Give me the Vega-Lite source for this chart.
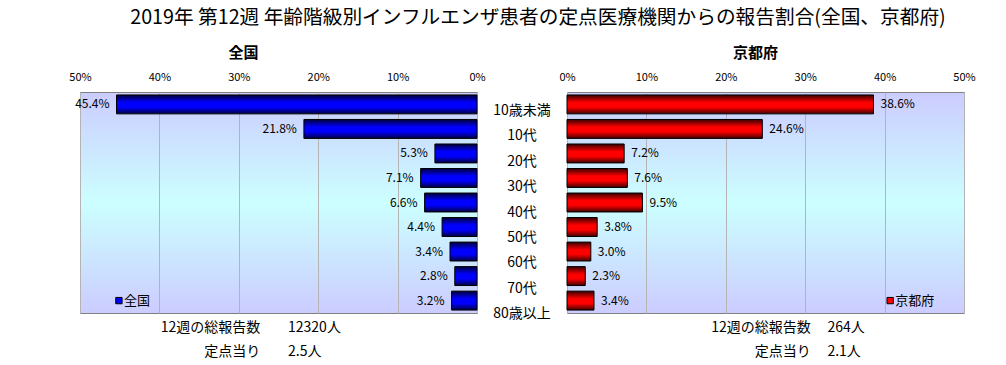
{
  "$schema": "https://vega.github.io/schema/vega-lite/v6.json",
  "padding": {"left": 68, "top": 7, "right": 10, "bottom": 5},
  "background": "white",
  "title": {
    "text": "2019年 第12週 年齢階級別インフルエンザ患者の定点医療機関からの報告割合(全国、京都府)",
    "fontSize": 19.7, "fontWeight": "normal", "anchor": "middle", "offset": 18, "dx": 16, "color": "black"
  },
  "datasets": {
    "rates": [
      {"age": "10歳未満", "region": "全国", "share": 0.454},
      {"age": "10代", "region": "全国", "share": 0.218},
      {"age": "20代", "region": "全国", "share": 0.053},
      {"age": "30代", "region": "全国", "share": 0.071},
      {"age": "40代", "region": "全国", "share": 0.066},
      {"age": "50代", "region": "全国", "share": 0.044},
      {"age": "60代", "region": "全国", "share": 0.034},
      {"age": "70代", "region": "全国", "share": 0.028},
      {"age": "80歳以上", "region": "全国", "share": 0.032},
      {"age": "10歳未満", "region": "京都府", "share": 0.386},
      {"age": "10代", "region": "京都府", "share": 0.246},
      {"age": "20代", "region": "京都府", "share": 0.072},
      {"age": "30代", "region": "京都府", "share": 0.076},
      {"age": "40代", "region": "京都府", "share": 0.095},
      {"age": "50代", "region": "京都府", "share": 0.038},
      {"age": "60代", "region": "京都府", "share": 0.030},
      {"age": "70代", "region": "京都府", "share": 0.023},
      {"age": "80歳以上", "region": "京都府", "share": 0.034}
    ],
    "notes": [
      {"region": "全国", "label": "12週の総報告数\n定点当り", "value": "12320人\n2.5人"},
      {"region": "京都府", "label": "12週の総報告数\n定点当り", "value": "264人\n2.1人"}
    ],
    "legend": [
      {"region": "全国"},
      {"region": "京都府"}
    ]
  },
  "spacing": 0,
  "bounds": "flush",
  "hconcat": [
    {
      "width": 397,
      "height": 221,
      "title": {"text": "全国", "fontSize": 15, "fontWeight": "bold", "dx": -35, "offset": 10, "color": "black"},
      "view": {
        "fill": {"gradient": "linear", "x1": 0, "y1": 0, "x2": 0, "y2": 1,
          "stops": [{"offset": 0, "color": "#ccccff"}, {"offset": 0.5, "color": "#ccffff"}, {"offset": 1, "color": "#ccccff"}]},
        "stroke": "#808080", "strokeWidth": 1
      },
      "layer": [
        {
          "data": {"name": "rates"},
          "transform": [{"filter": "datum.region === '全国'"}],
          "mark": {"type": "bar", "stroke": "black", "strokeWidth": 1,
            "color": {"gradient": "linear", "x1": 0, "y1": 0, "x2": 0, "y2": 1,
              "stops": [{"offset": 0, "color": "#000038"}, {"offset": 0.4, "color": "#0000ff"}, {"offset": 0.65, "color": "#0000ff"}, {"offset": 1, "color": "#000040"}]}},
          "encoding": {
            "y": {"field": "age", "type": "nominal", "axis": null,
              "scale": {"domain": ["10歳未満", "10代", "20代", "30代", "40代", "50代", "60代", "70代", "80歳以上"], "paddingInner": 0.228, "paddingOuter": 0.12}},
            "x": {"field": "share", "type": "quantitative",
              "scale": {"domain": [0, 0.5], "reverse": true, "nice": false},
              "axis": {"orient": "top", "values": [0, 0.1, 0.2, 0.3, 0.4, 0.5], "format": ".0%", "grid": true, "gridColor": "#b4b4b4",
                "domain": false, "ticks": false, "tickSize": 0, "labelPadding": 10, "labelFontSize": 11, "labelColor": "black", "title": null, "labelFlush": false}}
          }
        },
        {
          "data": {"name": "rates"},
          "transform": [{"filter": "datum.region === '全国'"}],
          "mark": {"type": "text", "align": "right", "baseline": "middle", "dx": -7, "fontSize": 12, "color": "black"},
          "encoding": {
            "y": {"field": "age", "type": "nominal"},
            "x": {"field": "share", "type": "quantitative"},
            "text": {"field": "share", "format": ".1%"}
          }
        },
        {
          "data": {"name": "legend"},
          "transform": [{"filter": "datum.region === '全国'"}],
          "mark": {"type": "point", "shape": "square", "size": 40, "filled": true, "fill": "#0000ff", "stroke": "black", "strokeWidth": 1, "opacity": 1},
          "encoding": {"x": {"datum": 0.451}, "y": {"datum": "80歳以上"}}
        },
        {
          "data": {"name": "legend"},
          "transform": [{"filter": "datum.region === '全国'"}],
          "mark": {"type": "text", "align": "left", "baseline": "middle", "dx": 5, "fontSize": 13, "color": "black"},
          "encoding": {"x": {"datum": 0.451}, "y": {"datum": "80歳以上"}, "text": {"field": "region"}}
        },
        {
          "data": {"name": "notes"},
          "transform": [{"filter": "datum.region === '全国'"}],
          "mark": {"type": "text", "align": "right", "baseline": "middle", "lineBreak": "\n", "lineHeight": 24, "dy": 27, "fontSize": 14, "color": "black"},
          "encoding": {"x": {"datum": 0.273}, "y": {"datum": "80歳以上"}, "text": {"field": "label"}}
        },
        {
          "data": {"name": "notes"},
          "transform": [{"filter": "datum.region === '全国'"}],
          "mark": {"type": "text", "align": "left", "baseline": "middle", "lineBreak": "\n", "lineHeight": 24, "dy": 27, "fontSize": 14, "color": "black"},
          "encoding": {"x": {"datum": 0.238}, "y": {"datum": "80歳以上"}, "text": {"field": "value"}}
        }
      ]
    },
    {
      "width": 90,
      "height": 241,
      "view": {"stroke": null, "fill": null},
      "data": {"name": "rates"},
      "transform": [{"filter": "datum.region === '全国'"}],
      "mark": {"type": "text", "fontSize": 14, "baseline": "middle", "color": "black"},
      "encoding": {
        "y": {"field": "age", "type": "nominal", "axis": null,
          "scale": {"type": "point", "domain": ["10歳未満", "10代", "20代", "30代", "40代", "50代", "60代", "70代", "80歳以上"], "padding": 0.749}},
        "text": {"field": "age"}
      }
    },
    {
      "width": 397,
      "height": 221,
      "title": {"text": "京都府", "fontSize": 15, "fontWeight": "bold", "dx": -10, "offset": 10, "color": "black"},
      "view": {
        "fill": {"gradient": "linear", "x1": 0, "y1": 0, "x2": 0, "y2": 1,
          "stops": [{"offset": 0, "color": "#ccccff"}, {"offset": 0.5, "color": "#ccffff"}, {"offset": 1, "color": "#ccccff"}]},
        "stroke": "#808080", "strokeWidth": 1
      },
      "layer": [
        {
          "data": {"name": "rates"},
          "transform": [{"filter": "datum.region === '京都府'"}],
          "mark": {"type": "bar", "stroke": "black", "strokeWidth": 1,
            "color": {"gradient": "linear", "x1": 0, "y1": 0, "x2": 0, "y2": 1,
              "stops": [{"offset": 0, "color": "#380000"}, {"offset": 0.4, "color": "#ff0000"}, {"offset": 0.65, "color": "#ff0000"}, {"offset": 1, "color": "#400000"}]}},
          "encoding": {
            "y": {"field": "age", "type": "nominal", "axis": null,
              "scale": {"domain": ["10歳未満", "10代", "20代", "30代", "40代", "50代", "60代", "70代", "80歳以上"], "paddingInner": 0.228, "paddingOuter": 0.12}},
            "x": {"field": "share", "type": "quantitative",
              "scale": {"domain": [0, 0.5], "nice": false},
              "axis": {"orient": "top", "values": [0, 0.1, 0.2, 0.3, 0.4, 0.5], "format": ".0%", "grid": true, "gridColor": "#b4b4b4",
                "domain": false, "ticks": false, "tickSize": 0, "labelPadding": 10, "labelFontSize": 11, "labelColor": "black", "title": null, "labelFlush": false}}
          }
        },
        {
          "data": {"name": "rates"},
          "transform": [{"filter": "datum.region === '京都府'"}],
          "mark": {"type": "text", "align": "left", "baseline": "middle", "dx": 7, "fontSize": 12, "color": "black"},
          "encoding": {
            "y": {"field": "age", "type": "nominal"},
            "x": {"field": "share", "type": "quantitative"},
            "text": {"field": "share", "format": ".1%"}
          }
        },
        {
          "data": {"name": "legend"},
          "transform": [{"filter": "datum.region === '京都府'"}],
          "mark": {"type": "point", "shape": "square", "size": 40, "filled": true, "fill": "#ff0000", "stroke": "black", "strokeWidth": 1, "opacity": 1},
          "encoding": {"x": {"datum": 0.407}, "y": {"datum": "80歳以上"}}
        },
        {
          "data": {"name": "legend"},
          "transform": [{"filter": "datum.region === '京都府'"}],
          "mark": {"type": "text", "align": "left", "baseline": "middle", "dx": 5, "fontSize": 13, "color": "black"},
          "encoding": {"x": {"datum": 0.407}, "y": {"datum": "80歳以上"}, "text": {"field": "region"}}
        },
        {
          "data": {"name": "notes"},
          "transform": [{"filter": "datum.region === '京都府'"}],
          "mark": {"type": "text", "align": "right", "baseline": "middle", "lineBreak": "\n", "lineHeight": 24, "dy": 27, "fontSize": 14, "color": "black"},
          "encoding": {"x": {"datum": 0.307}, "y": {"datum": "80歳以上"}, "text": {"field": "label"}}
        },
        {
          "data": {"name": "notes"},
          "transform": [{"filter": "datum.region === '京都府'"}],
          "mark": {"type": "text", "align": "left", "baseline": "middle", "lineBreak": "\n", "lineHeight": 24, "dy": 27, "fontSize": 14, "color": "black"},
          "encoding": {"x": {"datum": 0.328}, "y": {"datum": "80歳以上"}, "text": {"field": "value"}}
        }
      ]
    }
  ],
  "config": {
    "font": "Noto Sans CJK JP",
    "view": {"continuousWidth": 397, "continuousHeight": 221}
  }
}
